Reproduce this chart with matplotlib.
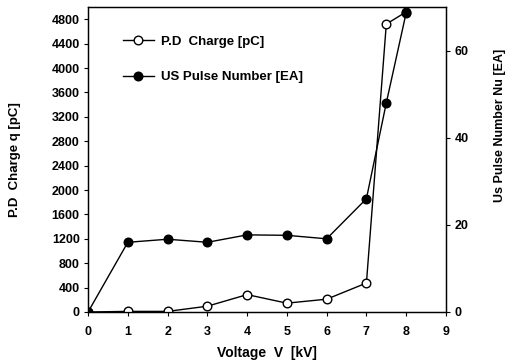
import matplotlib
matplotlib.use("Agg")
import matplotlib.pyplot as plt

voltage = [0, 1, 2, 3, 4, 5, 6, 7, 7.5, 8]
pd_charge = [0, 10, 10, 95, 285, 145, 210, 475, 4720, 4920]
us_pulse = [0, 16, 16.7, 16, 17.7, 17.6, 16.8, 26, 48, 68.7]

x_ticks = list(range(0, 10))
left_ticks = list(range(0, 5200, 400))
right_ticks = [0, 20, 40, 60]

plt.rcParams['font.family'] = ['Liberation Sans', 'DejaVu Sans']
plt.rcParams['font.weight'] = 'bold'

fig = plt.figure(figsize=(5.12, 3.63), dpi=100)
ax = fig.add_axes([0.172, 0.1405, 0.699, 0.8402])
ax2 = ax.twinx()

l1, = ax.plot(voltage, pd_charge, '-o', color='black', mfc='white', mec='black',
              ms=6.2, lw=1.0, mew=1.0, label='P.D  Charge [pC]', zorder=3)
l2, = ax2.plot(voltage, us_pulse, '-o', color='black', mfc='black', mec='black',
               ms=6.2, lw=1.0, label='US Pulse Number [EA]', zorder=4)

ax.set_xlim(0, 9)
ax.set_ylim(0, 5000)
ax2.set_ylim(0, 70)
ax.set_xticks(x_ticks)
ax.set_yticks(left_ticks)
ax2.set_yticks(right_ticks)

for a in (ax, ax2):
    a.tick_params(direction='out', length=3, width=0.8, labelsize=9, pad=3)
    for s in a.spines.values():
        s.set_linewidth(0.9)
ax.tick_params(axis='x', pad=7)

ax.set_xlabel('Voltage  V  [kV]', fontsize=10, fontweight='bold', labelpad=6)
ax.set_ylabel('P.D  Charge q [pC]', fontsize=9.5, fontweight='bold', labelpad=22)
fig.text(500 / 512, 1 - 125 / 363, 'Us Pulse Number Nu [EA]', rotation=90,
         ha='center', va='center', fontsize=9, fontweight='bold')

leg = ax2.legend(handles=[l1, l2], loc='upper left', bbox_to_anchor=(0.065, 0.945),
                 frameon=False, fontsize=9.5, labelspacing=1.75, handlelength=2.3,
                 handletextpad=0.55, borderpad=0.4)

fig.savefig('out.png', dpi=100)
